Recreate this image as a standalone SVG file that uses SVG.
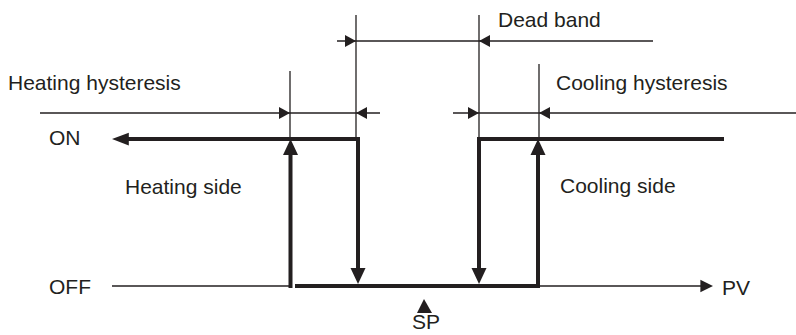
<svg xmlns="http://www.w3.org/2000/svg" xmlns:xlink="http://www.w3.org/1999/xlink" width="796" height="335" viewBox="0 0 796 335">
<style>
.thin{stroke:#231f20;stroke-width:1.3;fill:none}
.thick{stroke:#231f20;stroke-width:4;fill:none}
.hd{fill:#231f20}
text{font-family:"Liberation Sans",Arial,sans-serif;font-size:21px;fill:#231f20}
</style>
<defs>
<path id="ah" class="hd" d="M0,0 L-11,-6 L-11,6 z"/>
<path id="ahb" class="hd" d="M0,0 L-16,-7.5 L-16,7.5 z"/>
</defs>
<rect width="796" height="335" fill="#ffffff"/>
<g id="connectors">
<!-- extension lines -->
<line class="thin" x1="356" y1="15" x2="356" y2="137"/>
<line class="thin" x1="479" y1="15" x2="479" y2="137"/>
<line class="thin" x1="290" y1="71" x2="290" y2="137"/>
<line class="thin" x1="539" y1="64" x2="539" y2="137"/>
<!-- dead band dimension -->
<line class="thin" x1="337" y1="41" x2="653" y2="41"/>
<use xlink:href="#ah" transform="translate(356,41)"/>
<use xlink:href="#ah" transform="translate(479,41) rotate(180)"/>
<!-- heating hysteresis dimension -->
<line class="thin" x1="40" y1="113" x2="380" y2="113"/>
<use xlink:href="#ah" transform="translate(290,113)"/>
<use xlink:href="#ah" transform="translate(356,113) rotate(180)"/>
<!-- cooling hysteresis dimension -->
<line class="thin" x1="453" y1="113" x2="796" y2="113"/>
<use xlink:href="#ah" transform="translate(479,113)"/>
<use xlink:href="#ah" transform="translate(539,113) rotate(180)"/>
<!-- PV axis -->
<line class="thin" x1="112" y1="286" x2="292" y2="286"/>
<line class="thin" x1="538" y1="286" x2="702" y2="286"/>
<use xlink:href="#ah" transform="translate(713,286) scale(1.15,1.05)"/>
<!-- heating side -->
<path class="thick" d="M358,272 V139 H124"/>
<use xlink:href="#ahb" transform="translate(112,139) rotate(180) scale(1.05,0.85)"/>
<use xlink:href="#ahb" transform="translate(358,284) rotate(90)"/>
<path class="thick" d="M290.5,288 V150"/>
<use xlink:href="#ahb" transform="translate(290.5,139) rotate(-90)"/>
<!-- bottom off line -->
<line class="thick" x1="295" y1="286" x2="540" y2="286"/>
<!-- cooling side -->
<path class="thick" d="M479,272 V139 H724"/>
<use xlink:href="#ahb" transform="translate(479,284) rotate(90)"/>
<path class="thick" d="M538,288 V150"/>
<use xlink:href="#ahb" transform="translate(538,139) rotate(-90)"/>
</g>
<g id="labels">
<text x="498" y="27">Dead band</text>
<text x="8" y="90">Heating hysteresis</text>
<text x="556" y="90">Cooling hysteresis</text>
<text x="49" y="145">ON</text>
<text x="49" y="294">OFF</text>
<text x="722" y="295">PV</text>
<text x="125" y="194">Heating side</text>
<text x="560" y="193">Cooling side</text>
</g>
<g id="sp">
<polygon class="hd" points="417,313 424,299 432,313"/>
<text x="412" y="329">SP</text>
</g>
</svg>
